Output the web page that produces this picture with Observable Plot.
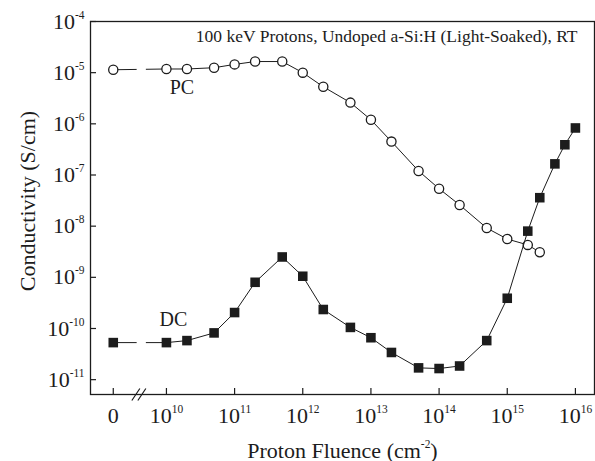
<!DOCTYPE html>
<html><head><meta charset="utf-8">
<script src="https://cdn.jsdelivr.net/npm/d3@7"></script>
<script src="https://cdn.jsdelivr.net/npm/@observablehq/plot@0.6"></script>
<style>
body{margin:0;background:#fff}
#chart{width:595px;height:461px}
#chart svg, #chart svg text, #chart svg tspan { font-family: "Liberation Serif", "DejaVu Serif", serif !important; }
</style>
</head><body><div id="chart"></div>
<script>
// ---- data ----
const ZERO_POS = 9.22; // where the "0" fluence sits on the broken log axis (exponent units)
const pcFluence = [0, 1e10, 2e10, 5e10, 1e11, 2e11, 5e11, 1e12, 2e12, 5e12, 1e13, 2e13, 5e13, 1e14, 2e14, 5e14, 1e15, 2e15, 3e15];
const pcValues  = [1.14e-5, 1.18e-5, 1.18e-5, 1.25e-5, 1.45e-5, 1.65e-5, 1.65e-5, 1.0e-5, 5.3e-6, 2.6e-6, 1.2e-6, 4.5e-7, 1.2e-7, 5.4e-8, 2.6e-8, 9.2e-9, 5.6e-9, 4.3e-9, 3.1e-9];
const dcFluence = [0, 1e10, 2e10, 5e10, 1e11, 2e11, 5e11, 1e12, 2e12, 5e12, 1e13, 2e13, 5e13, 1e14, 2e14, 5e14, 1e15, 2e15, 3e15, 5e15, 7e15, 1e16];
const dcValues  = [5.3e-11, 5.3e-11, 5.8e-11, 8.2e-11, 2.05e-10, 8.0e-10, 2.5e-9, 1.05e-9, 2.35e-10, 1.05e-10, 6.6e-11, 3.4e-11, 1.7e-11, 1.65e-11, 1.85e-11, 5.8e-11, 3.9e-10, 8.0e-9, 3.6e-8, 1.65e-7, 3.9e-7, 8.3e-7];
const xTickValues = [0, 1e10, 1e11, 1e12, 1e13, 1e14, 1e15, 1e16];
const yTickValues = [1e-11, 1e-10, 1e-9, 1e-8, 1e-7, 1e-6, 1e-5, 1e-4];
const titleText = "100 keV Protons, Undoped a-Si:H (Light-Soaked), RT";
const xLabel = "Proton Fluence (cm^{-2})";
const yLabel = "Conductivity (S/cm)";
const pcLabel = "PC", dcLabel = "DC";

// ---- build ----
const toX = f => f === 0 ? ZERO_POS : Math.log10(f);
const pc = pcFluence.map((f, i) => ({x: toX(f), y: pcValues[i]}));
const dc = dcFluence.map((f, i) => ({x: toX(f), y: dcValues[i]}));
const xTicks = xTickValues.map(toX);
const breakPos = [(ZERO_POS + 10) / 2];

const W = 595, H = 461, mL = 90, mR = 1, mT = 21, mB = 67;
const plotW = W - mL - mR, plotH = H - mT - mB;
const ink = "#1c1c1c";
const font = "Liberation Serif";

const expFmt = v => "10^{" + Math.round(Math.log10(v)) + "}";
const xFmt = v => v === ZERO_POS ? "0" : "10^{" + Math.round(v) + "}";

const breakSymbol = {draw(ctx) { ctx.moveTo(-8, 6); ctx.lineTo(0, -6); ctx.moveTo(-2, 6); ctx.lineTo(6, -6); }};

const chart = Plot.plot({
  width: W, height: H, marginLeft: mL, marginRight: mR, marginTop: mT, marginBottom: mB,
  style: {fontFamily: font, background: "white", color: ink},
  x: {type: "linear", domain: [8.886, 16.28]},
  y: {type: "log", domain: [10 ** -11.29, 1e-4]},
  marks: [
    Plot.axisX({ticks: xTicks, tickFormat: xFmt, tickSize: 0, tickPadding: 13, fontSize: 22, fontFamily: font, label: null}),
    Plot.axisY({ticks: yTickValues, tickFormat: expFmt, tickSize: 0, tickPadding: 6, fontSize: 22, fontFamily: font, label: null}),
    Plot.tickX(xTicks, {x: d => d, insetTop: plotH - 6, stroke: ink, strokeWidth: 1.2}),
    Plot.tickY(yTickValues, {y: d => d, insetRight: plotW - 6, stroke: ink, strokeWidth: 1.2}),
    // PC series
    Plot.line(pc.slice(0, 2), {x: "x", y: "y", stroke: ink, strokeWidth: 1, strokeDasharray: "23,10"}),
    Plot.line(pc.slice(1), {x: "x", y: "y", stroke: ink, strokeWidth: 1}),
    Plot.dot(pc, {x: "x", y: "y", r: 4.6, fill: "white", stroke: ink, strokeWidth: 1.3}),
    // DC series
    Plot.line(dc.slice(0, 2), {x: "x", y: "y", stroke: ink, strokeWidth: 1, strokeDasharray: "23,10"}),
    Plot.line(dc.slice(1), {x: "x", y: "y", stroke: ink, strokeWidth: 1}),
    Plot.dot(dc, {x: "x", y: "y", r: 5.4, symbol: "square", fill: ink, stroke: null}),
    // frame + break
    Plot.frame({stroke: ink, strokeWidth: 1.3}),
    Plot.dot(breakPos, {x: d => d, frameAnchor: "bottom", symbol: breakSymbol, r: 5, fill: "none", stroke: ink, strokeWidth: 1.2}),
    // labels
    Plot.text([pc[2]], {x: "x", y: "y", text: () => pcLabel, dx: -5, dy: 19, fontSize: 20, fontFamily: font, fill: ink}),
    Plot.text([dc[1]], {x: "x", y: "y", text: () => dcLabel, dx: 7, dy: -23, fontSize: 20, fontFamily: font, fill: ink}),
    Plot.text([titleText], {text: d => d, frameAnchor: "top-right", textAnchor: "end", lineAnchor: "top", dx: -17, dy: 8, fontSize: 17.5, fontFamily: font, fill: ink}),
    Plot.text([xLabel], {text: d => d, frameAnchor: "bottom", textAnchor: "middle", dy: 63, fontSize: 22, fontFamily: font, fill: ink}),
    Plot.text([yLabel], {text: d => d, frameAnchor: "left", textAnchor: "middle", rotate: -90, dx: -63, dy: -7, fontSize: 22, fontFamily: font, fill: ink})
  ]
});

// superscript post-processing: "^{...}" -> raised tspan
const NS = "http://www.w3.org/2000/svg";
chart.querySelectorAll("text").forEach(t => {
  const s = t.textContent;
  if (!s.includes("^{")) return;
  let fs = 22;
  for (let n = t; n && n.getAttribute; n = n.parentNode) {
    const a = n.getAttribute("font-size");
    if (a) { fs = parseFloat(a); break; }
  }
  const raise = 0.45 * fs;
  const parts = s.split(/(\^\{[^}]*\})/).filter(p => p);
  while (t.firstChild) t.removeChild(t.firstChild);
  let raised = false;
  for (const p of parts) {
    const m = p.match(/^\^\{(.*)\}$/);
    const ts = document.createElementNS(NS, "tspan");
    if (m) {
      ts.textContent = m[1];
      ts.setAttribute("font-size", (0.52 * fs) + "px");
      ts.setAttribute("dy", (-raise) + "px");
      raised = true;
    } else {
      ts.textContent = p;
      if (raised) { ts.setAttribute("dy", raise + "px"); raised = false; }
    }
    t.appendChild(ts);
  }
});
document.getElementById("chart").appendChild(chart);
</script>
</body></html>
